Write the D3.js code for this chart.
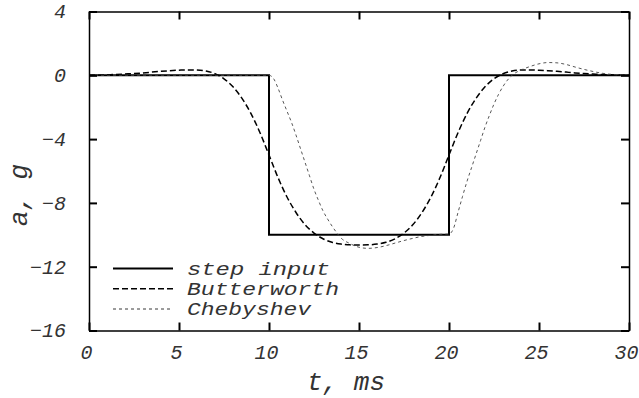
<!DOCTYPE html>
<html>
<head>
<meta charset="utf-8">
<script src="https://cdn.jsdelivr.net/npm/d3@7"></script>
<style>
  html, body { margin: 0; padding: 0; background: #fff; }
  svg { display: block; }
  text { font-family: "Liberation Mono", "DejaVu Sans Mono", monospace; font-style: italic; }
</style>
</head>
<body>
<svg id="chart" width="639" height="398"></svg>
<script>
// ---- data ----
const xTicks = [0, 5, 10, 15, 20, 25, 30];
const yTicks = [4, 0, -4, -8, -12, -16];
const xTickLabels = ["0", "5", "10", "15", "20", "25", "30"];
const yTickLabels = ["4", "0", "\u22124", "\u22128", "\u221212", "\u221216"];

const seriesNames = ["step input", "Butterworth", "Chebyshev"];

// step input (value holds until next time)
const stepT = [0, 10, 20, 30];
const stepA = [0, -10, 0, 0];

// Butterworth filtered response
const butterT = [0, 0.5, 1, 1.5, 2, 2.5, 3, 3.5, 4, 4.5, 5, 5.5, 6, 6.5, 7, 7.5, 8, 8.5, 9, 9.5,
  10, 10.5, 11, 11.5, 12, 12.5, 13, 13.5, 14, 14.5, 15, 15.5, 16, 16.5, 17, 17.5, 18, 18.5, 19, 19.5,
  20, 20.5, 21, 21.5, 22, 22.5, 23, 23.5, 24, 24.5, 25, 25.5, 26, 26.5, 27, 27.5, 28, 28.5, 29, 29.5, 30];
const butterA = [0, 0.01, 0.03, 0.05, 0.08, 0.11, 0.15, 0.2, 0.25, 0.29, 0.32, 0.34, 0.33, 0.27, 0.1, -0.22, -0.72, -1.45, -2.4, -3.6,
  -5.0, -6.41, -7.63, -8.6, -9.36, -9.89, -10.25, -10.47, -10.58, -10.63, -10.64, -10.63, -10.58, -10.47, -10.25, -9.89, -9.36, -8.6, -7.63, -6.41,
  -5.0, -3.6, -2.4, -1.45, -0.72, -0.22, 0.1, 0.27, 0.33, 0.34, 0.32, 0.29, 0.25, 0.2, 0.15, 0.11, 0.08, 0.05, 0.03, 0.01, 0];

// Chebyshev filtered response
const chebT = [0, 5, 10, 10.25, 10.5, 10.75, 11, 11.25, 11.5, 11.75, 12, 12.25, 12.5, 12.75, 13, 13.25, 13.5, 13.75, 14, 14.5,
  15, 15.5, 16, 16.5, 17, 17.5, 18, 18.5, 19, 19.5, 20, 20.25, 20.5, 20.75, 21, 21.25, 21.5, 21.75, 22, 22.25,
  22.5, 22.75, 23, 23.25, 23.5, 24, 24.5, 25, 25.5, 26, 26.5, 27, 27.5, 28, 28.5, 29, 29.5, 30];
const chebA = [0, 0, 0, -0.2, -0.8, -1.55, -2.25, -2.95, -3.75, -4.6, -5.45, -6.3, -7.15, -7.85, -8.5, -9.0, -9.45, -9.85, -10.2, -10.55,
  -10.78, -10.85, -10.8, -10.68, -10.52, -10.36, -10.22, -10.1, -10.03, -9.97, -9.95, -9.6, -8.6, -7.6, -6.65, -5.8, -4.95, -4.1, -3.25, -2.5,
  -1.8, -1.2, -0.7, -0.3, 0.0, 0.33, 0.55, 0.72, 0.8, 0.78, 0.68, 0.52, 0.37, 0.24, 0.13, 0.06, 0.02, 0];

// ---- drawing ----
const svg = d3.select("#chart");
const mLeft = 89, mRight = 629, mTop = 11.5, mBottom = 330.5;
const x = d3.scaleLinear().domain([0, 30]).range([mLeft, mRight]);
const y = d3.scaleLinear().domain([-16, 4]).range([mBottom, mTop]);

const zip = (ts, as) => ts.map((t, i) => ({t, a: as[i]}));

const styles = [
  {stroke: "#000", width: 2, dash: null, curve: d3.curveStepAfter},
  {stroke: "#000", width: 1.5, dash: "6,3", curve: d3.curveMonotoneX},
  {stroke: "#444", width: 0.9, dash: "3,3", curve: d3.curveMonotoneX}
];
const data = [zip(stepT, stepA), zip(butterT, butterA), zip(chebT, chebA)];

const plot = svg.append("g");
data.forEach((d, i) => {
  const line = d3.line().x(p => x(p.t)).y(p => y(p.a)).curve(styles[i].curve);
  plot.append("path")
    .attr("d", line(d))
    .attr("fill", "none")
    .attr("stroke", styles[i].stroke)
    .attr("stroke-width", styles[i].width)
    .attr("stroke-dasharray", styles[i].dash);
});

// axes (inward ticks on all four sides)
const tickLen = 8;
function styleAxis(g) {
  g.select(".domain").attr("stroke", "#000").attr("stroke-width", 1.5);
  g.selectAll(".tick line").attr("stroke", "#000").attr("stroke-width", 2);
  g.selectAll(".tick text").attr("fill", "#333").style("font-size", "20px")
    .style("font-family", "'Liberation Mono', monospace").style("font-style", "italic");
}
const gB = svg.append("g").attr("transform", `translate(0,${mBottom})`)
  .call(d3.axisBottom(x).tickValues(xTicks).tickFormat((d, i) => xTickLabels[i])
    .tickSize(-tickLen).tickSizeOuter(0).tickPadding(14));
styleAxis(gB);
gB.selectAll(".tick text").attr("dx", -3);

const gT = svg.append("g").attr("transform", `translate(0,${mTop})`)
  .call(d3.axisTop(x).tickValues(xTicks).tickFormat("").tickSize(-tickLen).tickSizeOuter(0));
styleAxis(gT);

const gL = svg.append("g").attr("transform", `translate(${mLeft},0)`)
  .call(d3.axisLeft(y).tickValues(yTicks).tickFormat((d, i) => yTickLabels[i])
    .tickSize(-tickLen).tickSizeOuter(0).tickPadding(23));
styleAxis(gL);

const gR = svg.append("g").attr("transform", `translate(${mRight},0)`)
  .call(d3.axisRight(y).tickValues(yTicks).tickFormat("").tickSize(-tickLen).tickSizeOuter(0));
styleAxis(gR);

// axis titles
svg.append("text").attr("x", 346).attr("y", 390).attr("text-anchor", "middle")
  .attr("fill", "#333").style("font-size", "26px").text("t, ms");
svg.append("text").attr("transform", "translate(27,195) rotate(-90)").attr("text-anchor", "middle")
  .attr("fill", "#333").style("font-size", "26px").text("a, g");

// legend
const legY = [268.5, 288.7, 309];
const legW = [143, 152, 124];
const leg = svg.append("g");
seriesNames.forEach((name, i) => {
  leg.append("line").attr("x1", 113).attr("x2", 173).attr("y1", legY[i]).attr("y2", legY[i])
    .attr("stroke", i === 2 ? "#222" : styles[i].stroke)
    .attr("stroke-width", styles[i].width)
    .attr("stroke-dasharray", styles[i].dash);
  leg.append("text").attr("x", 187).attr("y", legY[i] + 6)
    .attr("fill", "#333").style("font-size", "17.6px")
    .attr("textLength", legW[i]).attr("lengthAdjust", "spacingAndGlyphs")
    .text(name);
});
</script>
</body>
</html>
